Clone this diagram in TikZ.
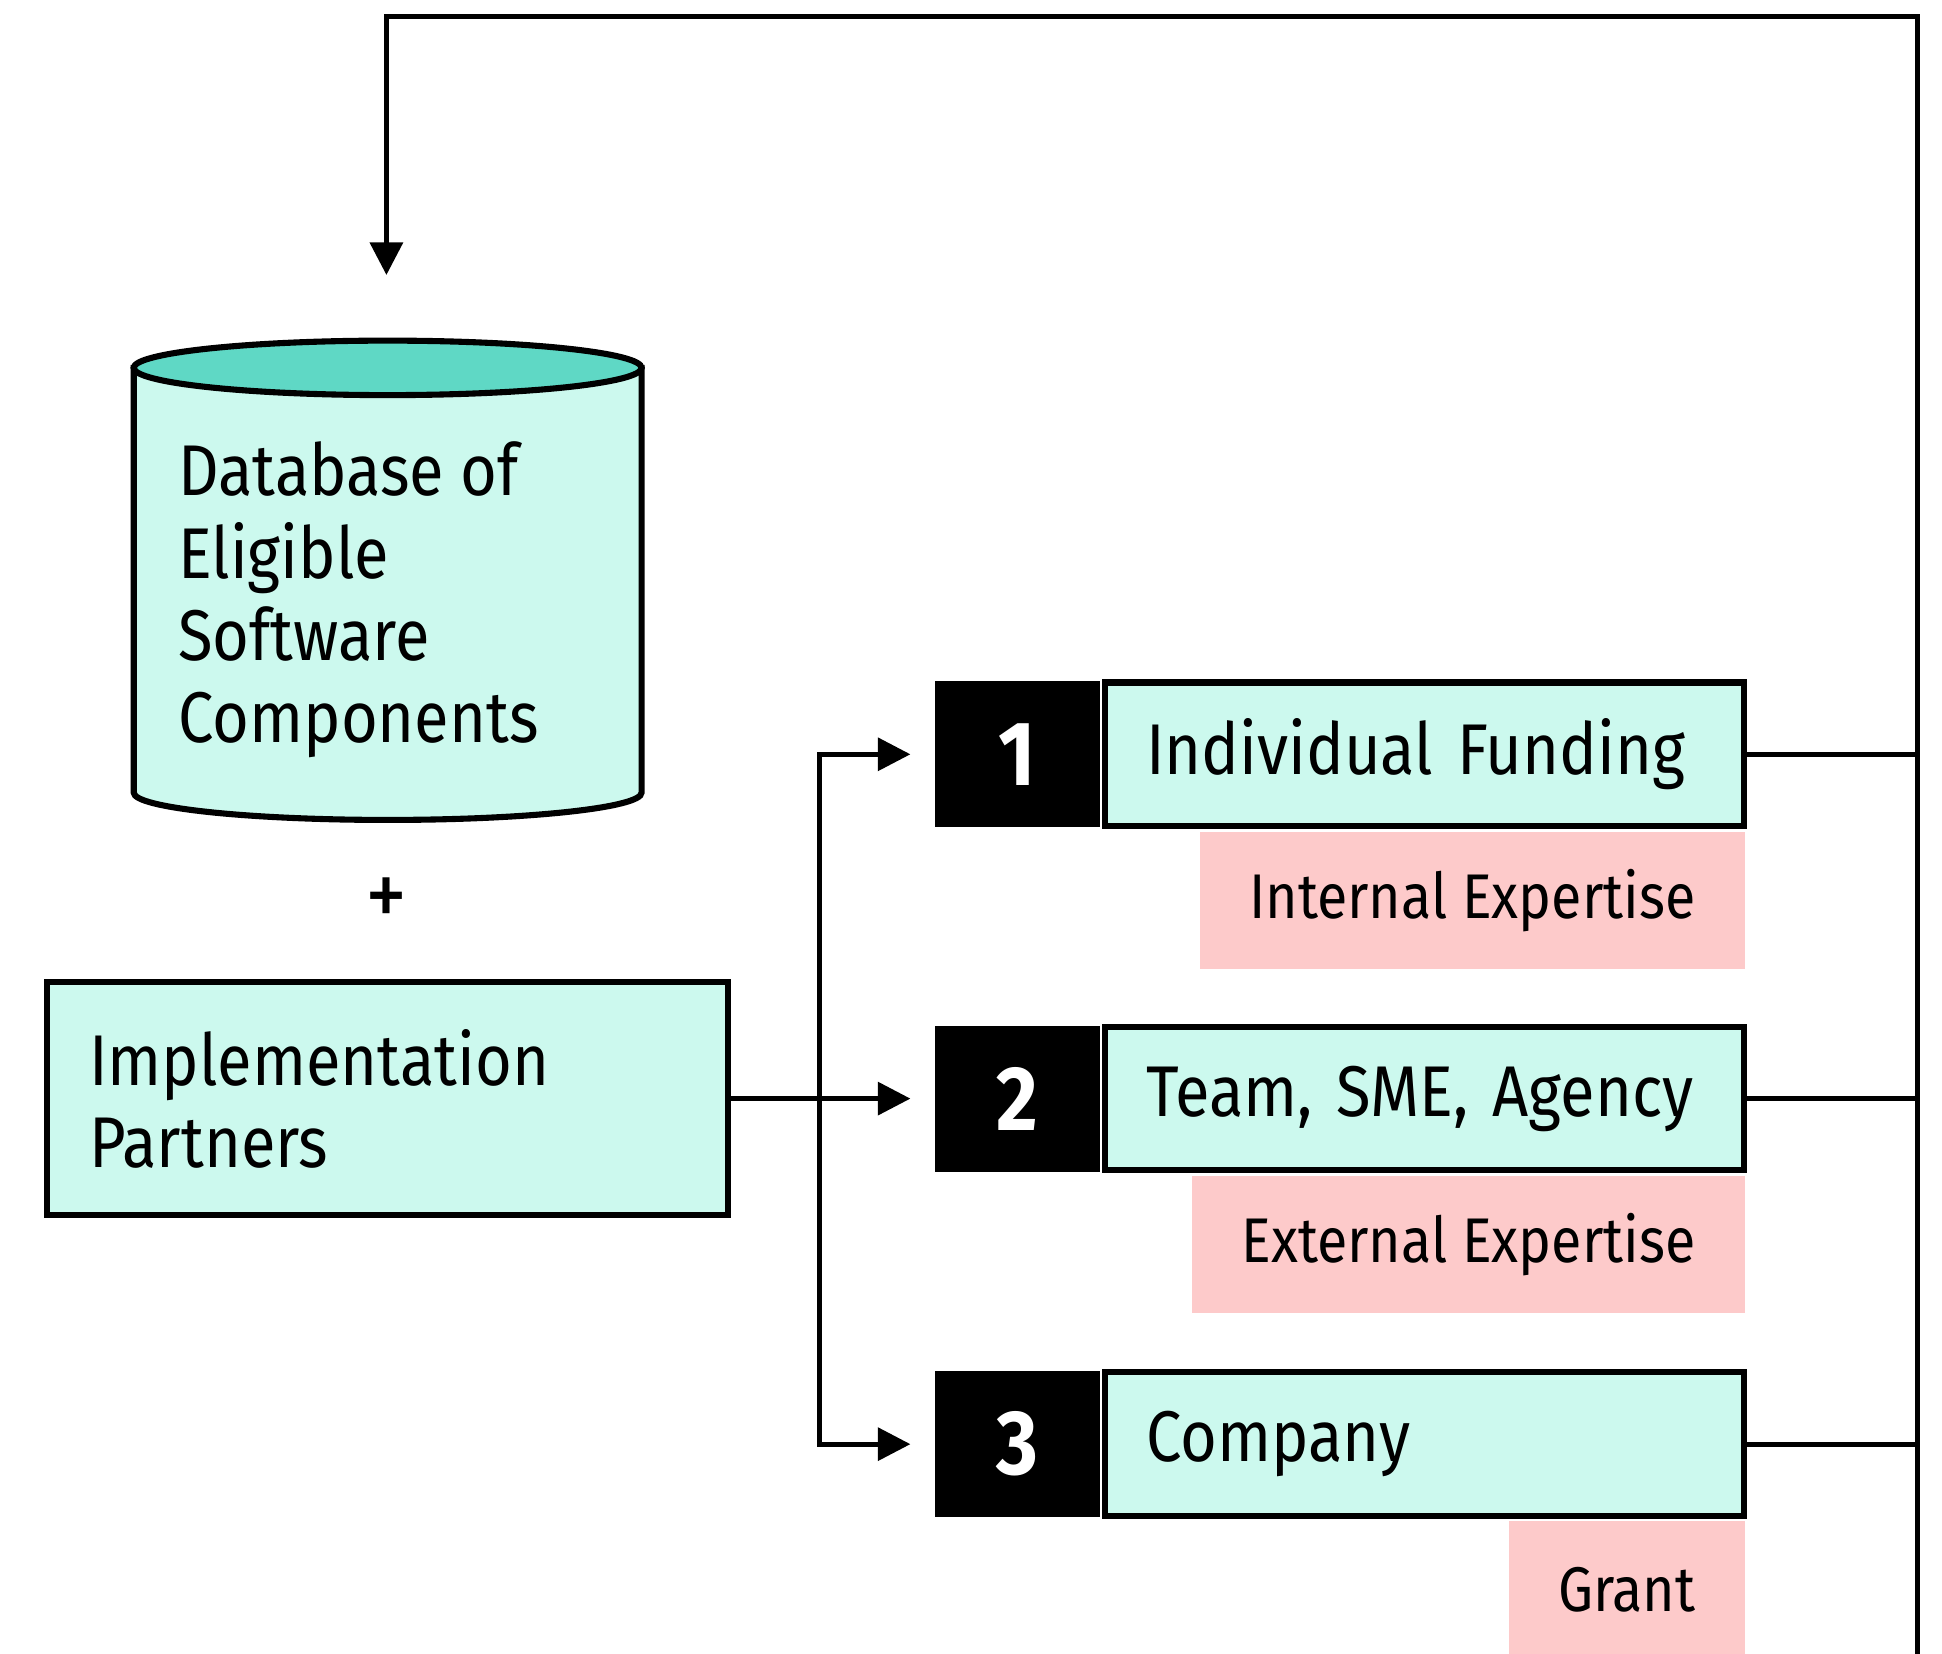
\documentclass[tikz,border=0pt]{standalone}
\usepackage{fontspec}
\setmainfont{Fira Sans}[FakeStretch=0.88]
\usetikzlibrary{arrows.meta,positioning}
\definecolor{mint}{HTML}{CCF9EE}
\definecolor{dbtop}{HTML}{5FD8C5}
\definecolor{rose}{HTML}{FDCACA}
\begin{document}
\begin{tikzpicture}[>={Triangle[length=7.5pt,width=7.5pt]},line width=1.1pt,
  box/.style={draw,line width=1.4pt,fill=mint},
  numbox/.style={fill=black,text=white,font=\bfseries\fontsize{21}{21}\selectfont,minimum width=1.33cm,minimum height=1.18cm},
  fundbox/.style={box,text width=4.5cm,inner xsep=0.33cm,inner ysep=0pt,minimum height=1.16cm,align=left,font=\fontsize{16.5}{19}\selectfont},
  tagbox/.style={fill=rose,inner xsep=0.4cm,minimum height=1.11cm,font=\fontsize{14.5}{17}\selectfont}]
\useasboundingbox (0,0) rectangle (15.68,-13.35);
% database
\draw[line width=1.4pt,fill=mint](1.08,-2.97)--(1.08,-6.40)arc[start angle=180,end angle=360,x radius=2.05,y radius=0.22]--(5.18,-2.97)--cycle;
\draw[line width=1.4pt,fill=dbtop](3.13,-2.97)ellipse[x radius=2.05,y radius=0.22];
\node[anchor=north west,inner sep=0pt,align=left,font=\fontsize{16.5}{18.9}\selectfont](db)at(1.42,-3.55){Database of\\Eligible\\Software\\Components};
\node[font=\fontsize{22}{22}\selectfont](plus)at(3.12,-7.29){+};
\node[box,text width=4.82cm,inner xsep=0.34cm,minimum height=1.88cm,align=left,font=\fontsize{16.5}{18.9}\selectfont](impl)at(3.13,-8.87){Implementation\\Partners};
\foreach \i/\y/\txt/\tagtxt in {1/-6.09/Individual Funding/Internal Expertise,2/-8.87/{Team, SME, Agency}/External Expertise,3/-11.66/Company/Grant}
{
    \node[numbox](num\i)at(8.215,\y){\i};
    \node[fundbox,right=0pt of num\i](fund\i){\txt};
    \node[tagbox,anchor=north east](tag\i)at(fund\i.south east){\tagtxt};
}
\coordinate[right=0.71cm of impl.east](split);
\coordinate(bus)at(15.48,-0.13);
\coordinate(busend)at(15.48,-13.5);
\coordinate(dbin)at(3.12,-2.22);
\draw[->,shorten >=0.18cm](impl.east)--(num2.west);
\draw[->,shorten >=0.18cm](split)|-(num1.west);
\draw[->,shorten >=0.18cm](split)|-(num3.west);
\draw[->](busend)--(bus)-|(dbin);
\foreach \i in {1,2,3}
    \draw(fund\i.east)--(fund\i.east-|bus);
\end{tikzpicture}
\end{document}
